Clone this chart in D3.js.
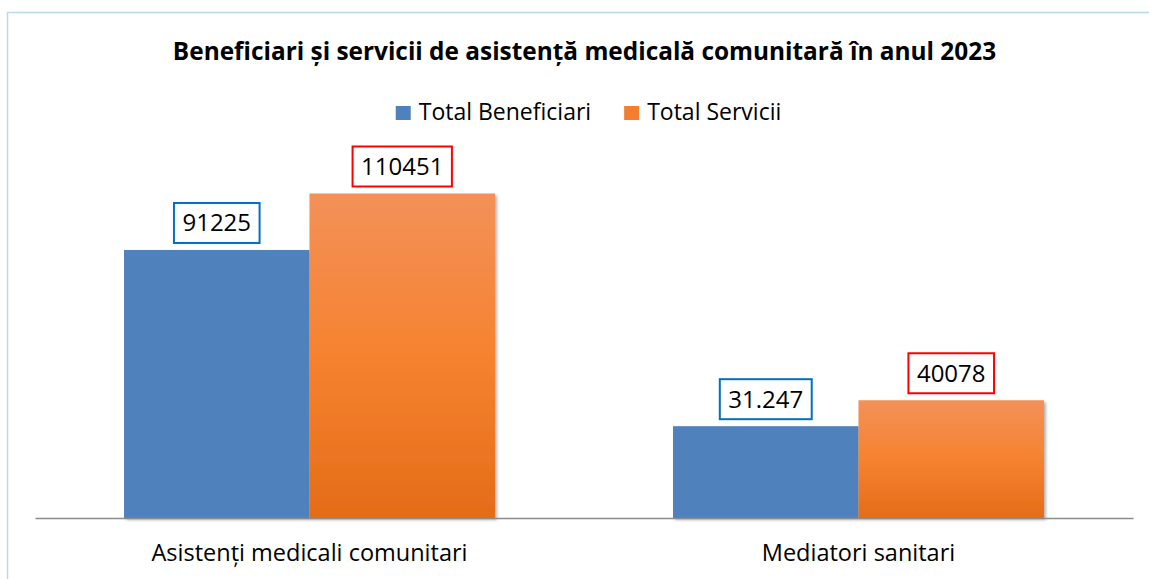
<!DOCTYPE html>
<html>
<head>
<meta charset="utf-8">
<script src="https://cdn.jsdelivr.net/npm/d3@7"></script>
<style>
  body { margin: 0; background: #fff; }
  text { font-family: "Open Sans", "Noto Sans", sans-serif; fill: #000; }
</style>
</head>
<body>
<svg id="chart"></svg>
<script>
// Data
const categories = ["Asistenți medicali comunitari", "Mediatori sanitari"];
const seriesNames = ["Total Beneficiari", "Total Servicii"];
const beneficiari = [91225, 31247];
const servicii = [110451, 40078];
const valueLabels = [["91225", "110451"], ["31.247", "40078"]];

const width = 1149;
const height = 579;

const svg = d3.select('#chart')
    .attr('width', width)
    .attr('height', height);

// gradient for orange bars + small shadow
const defs = svg.append('defs');
const grad = defs.append('linearGradient')
    .attr('id', 'orangeGrad')
    .attr('x1', 0).attr('y1', 0).attr('x2', 0).attr('y2', 1);
grad.append('stop').attr('offset', '0%').attr('stop-color', '#F39159');
grad.append('stop').attr('offset', '50%').attr('stop-color', '#F6822F');
grad.append('stop').attr('offset', '100%').attr('stop-color', '#E46C18');

const shadow = defs.append('filter')
    .attr('id', 'barShadow')
    .attr('x', '-5%').attr('y', '-5%').attr('width', '115%').attr('height', '115%');
shadow.append('feDropShadow')
    .attr('dx', 2).attr('dy', 2)
    .attr('stdDeviation', 1.6)
    .attr('flood-color', '#000')
    .attr('flood-opacity', 0.3);

// chart border (light blue, open on right/bottom)
svg.append('rect')
    .attr('x', 7.5).attr('y', 12.5)
    .attr('width', 1160).attr('height', 600)
    .attr('fill', 'none')
    .attr('stroke', '#BDD7EE')
    .attr('stroke-width', 1.5);

// scales
const x0 = d3.scaleBand()
    .domain(categories)
    .range([35, 1133])
    .paddingInner(0)
    .paddingOuter(0);

const x1 = d3.scaleBand()
    .domain(seriesNames)
    .range([0, x0.bandwidth()])
    .paddingInner(0)
    .paddingOuter(0.48);

const yMax = 120000;
const y = d3.scaleLinear()
    .domain([0, yMax])
    .range([518, 518 - yMax * 0.002938]);

const colorFill = d3.scaleOrdinal()
    .domain(seriesNames)
    .range(['#4F81BD', 'url(#orangeGrad)']);
const labelStroke = d3.scaleOrdinal()
    .domain(seriesNames)
    .range(['#0070C0', '#FF0000']);
const legendColor = d3.scaleOrdinal()
    .domain(seriesNames)
    .range(['#4F81BD', '#F47D30']);

// flatten for drawing
const rows = categories.map((c, i) => ({
    category: c,
    values: [
        { series: seriesNames[0], value: beneficiari[i], label: valueLabels[i][0] },
        { series: seriesNames[1], value: servicii[i], label: valueLabels[i][1] }
    ]
}));

// bars
const groups = svg.selectAll('.group')
    .data(rows)
    .enter()
    .append('g')
    .attr('class', 'group')
    .attr('transform', d => `translate(${x0(d.category)},0)`);

groups.selectAll('.bar')
    .data(d => d.values)
    .enter()
    .append('rect')
    .attr('class', 'bar')
    .attr('x', d => x1(d.series))
    .attr('y', d => y(d.value))
    .attr('width', x1.bandwidth())
    .attr('height', d => y(0) - y(d.value))
    .attr('fill', d => colorFill(d.series))
    .attr('filter', 'url(#barShadow)');

// x axis
const xAxis = d3.axisBottom(x0).tickSize(0).tickSizeOuter(0).tickPadding(26);
const axisG = svg.append('g')
    .attr('transform', `translate(0,${y(0)})`)
    .call(xAxis);
axisG.select('.domain').attr('stroke', '#8C8C8C').attr('stroke-width', 1.5);
axisG.selectAll('text')
    .style('font-family', '"Open Sans", sans-serif')
    .style('font-size', '23.5px')
    .attr('fill', '#1a1a1a');

// value labels with coloured boxes
const labelG = groups.selectAll('.vlabel')
    .data(d => d.values)
    .enter()
    .append('g')
    .attr('class', 'vlabel');

labelG.each(function(d) {
    const g = d3.select(this);
    const cx = x1(d.series) + x1.bandwidth() / 2;
    const bottom = y(d.value) - 7;
    const boxH = 40;
    const txt = g.append('text')
        .attr('x', cx)
        .attr('y', bottom - boxH / 2)
        .attr('dy', '0.35em')
        .attr('text-anchor', 'middle')
        .style('font-size', '24px')
        .attr('fill', '#222')
        .text(d.label);
    const w = txt.node().getComputedTextLength() + 17;
    g.insert('rect', 'text')
        .attr('x', cx - w / 2)
        .attr('y', bottom - boxH)
        .attr('width', w)
        .attr('height', boxH)
        .attr('fill', '#fff')
        .attr('stroke', labelStroke(d.series))
        .attr('stroke-width', 2);
});

// title
svg.append('text')
    .attr('x', 584.5)
    .attr('y', 60)
    .attr('text-anchor', 'middle')
    .style('font-size', '24.4px')
    .style('font-weight', 'bold')
    .text('Beneficiari și servicii de asistență medicală comunitară în anul 2023');

// legend
const legend = svg.append('g').attr('class', 'legend');
const items = legend.selectAll('.legend-item')
    .data(seriesNames)
    .enter()
    .append('g')
    .attr('class', 'legend-item');
items.append('rect')
    .attr('width', 15)
    .attr('height', 14)
    .attr('y', 106)
    .attr('fill', d => legendColor(d));
items.append('text')
    .attr('x', 23)
    .attr('y', 119.5)
    .style('font-size', '23px')
    .attr('fill', '#222')
    .text(d => d);

// lay the legend items out side by side, centred
let offset = 0;
const positions = [];
items.each(function() {
    positions.push(offset);
    offset += this.getBBox().width + 33;
});
const total = offset - 33;
const startX = 588.5 - total / 2;
items.attr('transform', (d, i) => `translate(${startX + positions[i]},0)`);
</script>
</body>
</html>
